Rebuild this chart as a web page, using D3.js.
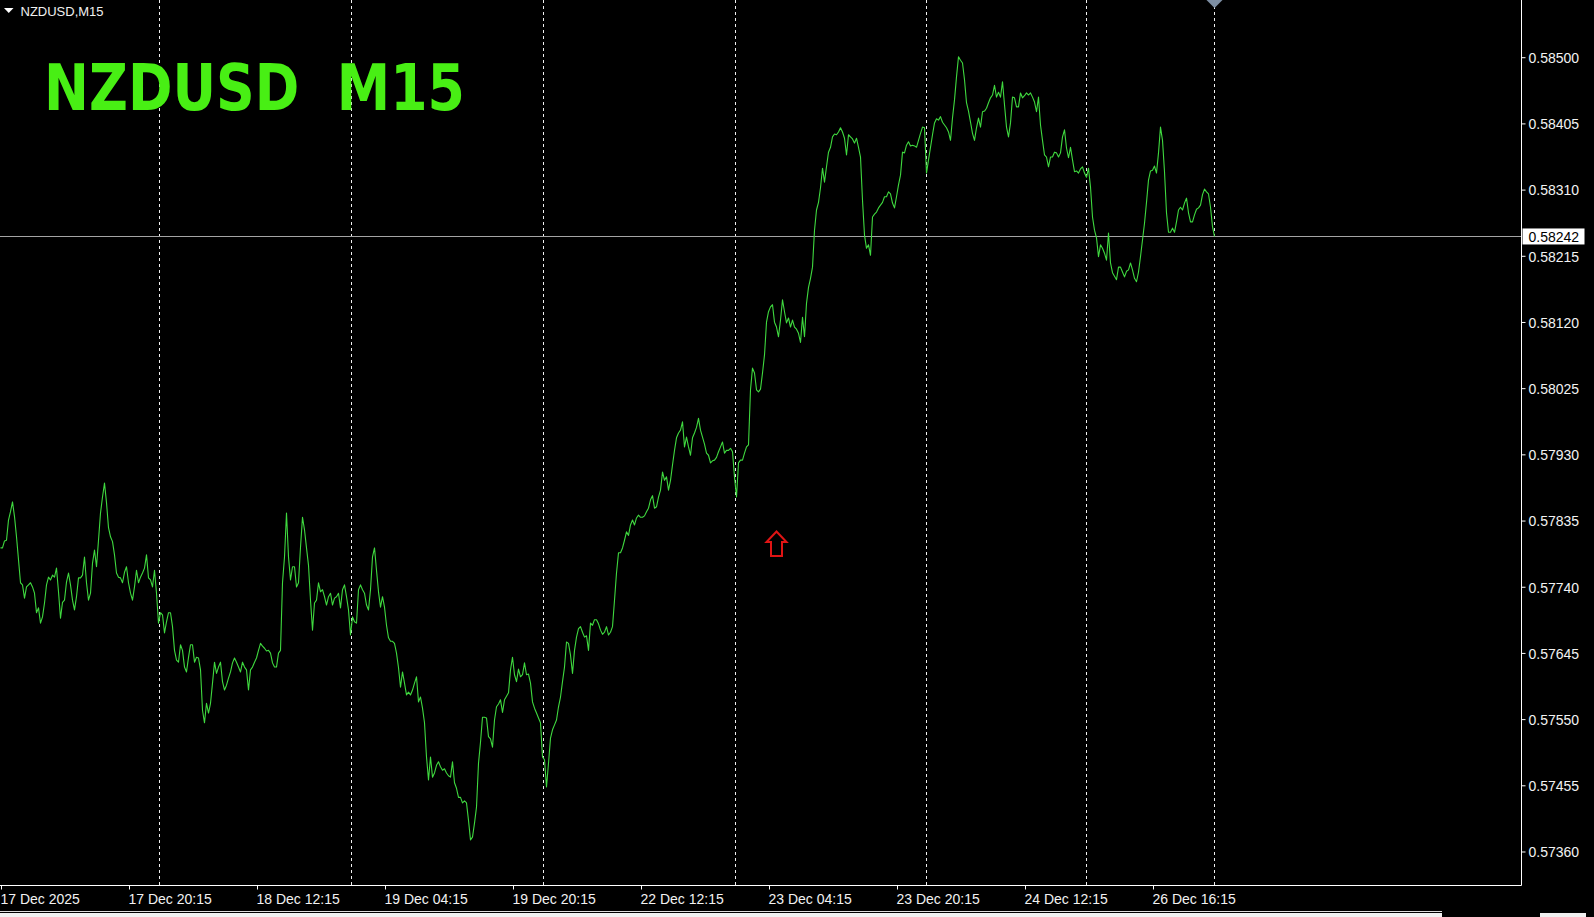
<!DOCTYPE html>
<html>
<head>
<meta charset="utf-8">
<script src="https://cdn.jsdelivr.net/npm/d3@7"></script>
<style>
html,body{margin:0;padding:0;background:#000;overflow:hidden}
svg{display:block}
</style>
</head>
<body>
<svg id="chart" width="1594" height="917"></svg>
<script>
// ---------------- data ----------------
const symbolLabel = "NZDUSD,M15";
const titleText = "NZDUSD  M15";

// M15 closes, one per bar, starting 17 Dec 2025 04:15
const closes = [
0.57795,0.57795,0.57805,0.57806,0.57835,0.57847,0.57861,0.57840,0.57811,0.57778,
0.57745,0.57742,0.57723,0.57739,0.57742,0.57745,0.57739,0.57730,0.57702,0.57709,
0.57687,0.57696,0.57716,0.57742,0.57753,0.57749,0.57756,0.57753,0.57766,0.57732,
0.57694,0.57717,0.57720,0.57746,0.57759,0.57742,0.57720,0.57706,0.57725,0.57752,
0.57752,0.57756,0.57782,0.57745,0.57720,0.57730,0.57773,0.57792,0.57768,0.57806,
0.57845,0.57868,0.57888,0.57860,0.57824,0.57811,0.57804,0.57785,0.57759,0.57753,
0.57752,0.57745,0.57760,0.57768,0.57745,0.57730,0.57720,0.57739,0.57763,0.57745,
0.57753,0.57759,0.57766,0.57785,0.57752,0.57749,0.57739,0.57763,0.57730,0.57687,
0.57702,0.57699,0.57673,0.57689,0.57702,0.57702,0.57682,0.57648,0.57634,0.57631,
0.57656,0.57648,0.57624,0.57617,0.57638,0.57656,0.57656,0.57631,0.57638,0.57637,
0.57620,0.57562,0.57544,0.57572,0.57558,0.57572,0.57601,0.57631,0.57615,0.57624,
0.57631,0.57603,0.57591,0.57598,0.57608,0.57617,0.57630,0.57637,0.57631,0.57624,
0.57617,0.57631,0.57624,0.57620,0.57591,0.57620,0.57624,0.57631,0.57637,0.57648,
0.57658,0.57654,0.57651,0.57647,0.57648,0.57644,0.57630,0.57624,0.57624,0.57644,
0.57648,0.57745,0.57782,0.57845,0.57782,0.57749,0.57768,0.57768,0.57739,0.57745,
0.57796,0.57839,0.57821,0.57795,0.57770,0.57720,0.57677,0.57716,0.57720,0.57745,
0.57732,0.57735,0.57725,0.57713,0.57725,0.57730,0.57713,0.57723,0.57725,0.57730,
0.57709,0.57735,0.57742,0.57725,0.57706,0.57670,0.57696,0.57689,0.57687,0.57735,
0.57742,0.57735,0.57730,0.57713,0.57706,0.57735,0.57782,0.57795,0.57763,0.57732,
0.57710,0.57725,0.57710,0.57684,0.57666,0.57661,0.57661,0.57658,0.57644,0.57623,
0.57595,0.57617,0.57601,0.57584,0.57588,0.57584,0.57591,0.57601,0.57610,0.57574,
0.57581,0.57565,0.57544,0.57495,0.57462,0.57495,0.57466,0.57472,0.57483,0.57488,
0.57481,0.57476,0.57478,0.57472,0.57468,0.57466,0.57488,0.57458,0.57450,0.57437,
0.57437,0.57429,0.57432,0.57429,0.57404,0.57376,0.57380,0.57400,0.57423,0.57486,
0.57516,0.57552,0.57552,0.57551,0.57524,0.57521,0.57509,0.57548,0.57567,0.57571,
0.57577,0.57559,0.57577,0.57582,0.57587,0.57620,0.57638,0.57613,0.57603,0.57621,
0.57610,0.57613,0.57630,0.57613,0.57614,0.57601,0.57574,0.57565,0.57558,0.57551,
0.57544,0.57495,0.57491,0.57452,0.57486,0.57522,0.57534,0.57541,0.57548,0.57567,
0.57581,0.57603,0.57624,0.57660,0.57658,0.57641,0.57615,0.57648,0.57667,0.57679,
0.57682,0.57674,0.57667,0.57669,0.57648,0.57687,0.57684,0.57692,0.57692,0.57686,
0.57677,0.57671,0.57674,0.57682,0.57670,0.57674,0.57682,0.57720,0.57759,0.57788,
0.57788,0.57795,0.57806,0.57818,0.57813,0.57828,0.57835,0.57828,0.57838,0.57842,
0.57839,0.57839,0.57841,0.57847,0.57852,0.57864,0.57870,0.57852,0.57854,0.57868,
0.57878,0.57904,0.57892,0.57897,0.57878,0.57892,0.57914,0.57935,0.57953,0.57960,
0.57964,0.57976,0.57940,0.57954,0.57940,0.57928,0.57953,0.57960,0.57968,0.57981,
0.57964,0.57954,0.57944,0.57931,0.57928,0.57917,0.57920,0.57921,0.57925,0.57933,
0.57940,0.57947,0.57931,0.57935,0.57935,0.57938,0.57933,0.57897,0.57868,0.57917,
0.57921,0.57921,0.57931,0.57940,0.57943,0.58022,0.58053,0.58046,0.58022,0.58019,
0.58023,0.58046,0.58072,0.58119,0.58134,0.58141,0.58144,0.58119,0.58112,0.58098,
0.58122,0.58151,0.58134,0.58118,0.58125,0.58112,0.58122,0.58112,0.58109,0.58103,
0.58090,0.58126,0.58098,0.58146,0.58169,0.58182,0.58198,0.58251,0.58280,0.58291,
0.58312,0.58340,0.58320,0.58342,0.58363,0.58370,0.58385,0.58389,0.58388,0.58392,
0.58398,0.58392,0.58383,0.58359,0.58388,0.58385,0.58382,0.58376,0.58383,0.58370,
0.58356,0.58294,0.58244,0.58225,0.58230,0.58215,0.58270,0.58274,0.58277,0.58283,
0.58287,0.58291,0.58299,0.58299,0.58306,0.58303,0.58290,0.58283,0.58299,0.58316,
0.58330,0.58363,0.58362,0.58373,0.58378,0.58372,0.58373,0.58372,0.58370,0.58380,
0.58390,0.58399,0.58398,0.58333,0.58352,0.58370,0.58388,0.58405,0.58411,0.58409,
0.58414,0.58406,0.58402,0.58398,0.58392,0.58380,0.58412,0.58438,0.58471,0.58500,
0.58495,0.58491,0.58467,0.58434,0.58422,0.58406,0.58390,0.58380,0.58398,0.58412,
0.58399,0.58421,0.58422,0.58426,0.58434,0.58441,0.58445,0.58459,0.58442,0.58449,
0.58442,0.58464,0.58431,0.58399,0.58385,0.58405,0.58442,0.58441,0.58428,0.58428,
0.58448,0.58441,0.58444,0.58448,0.58445,0.58448,0.58442,0.58435,0.58421,0.58442,
0.58402,0.58380,0.58359,0.58356,0.58342,0.58356,0.58356,0.58363,0.58362,0.58356,
0.58362,0.58385,0.58395,0.58369,0.58355,0.58370,0.58352,0.58335,0.58336,0.58333,
0.58339,0.58342,0.58333,0.58327,0.58340,0.58313,0.58270,0.58251,0.58240,0.58213,
0.58230,0.58225,0.58218,0.58208,0.58247,0.58204,0.58190,0.58185,0.58180,0.58198,
0.58198,0.58191,0.58184,0.58192,0.58194,0.58204,0.58194,0.58182,0.58177,0.58191,
0.58213,0.58237,0.58261,0.58291,0.58323,0.58336,0.58337,0.58343,0.58333,0.58362,
0.58399,0.58380,0.58335,0.58276,0.58248,0.58248,0.58254,0.58248,0.58263,0.58280,
0.58284,0.58280,0.58290,0.58297,0.58276,0.58263,0.58263,0.58273,0.58281,0.58283,
0.58287,0.58302,0.58310,0.58306,0.58303,0.58284,0.58256,0.58242
];

const priceTicks = [0.58500,0.58405,0.58310,0.58215,0.58120,0.58025,0.57930,
                    0.57835,0.57740,0.57645,0.57550,0.57455,0.57360];
const timeTickBars = [0,64,128,192,256,320,384,448,512,576];
const timeTickLabels = ["17 Dec 2025","17 Dec 20:15","18 Dec 12:15","19 Dec 04:15",
  "19 Dec 20:15","22 Dec 12:15","23 Dec 04:15","23 Dec 20:15","24 Dec 12:15","26 Dec 16:15"];
const separatorBars = [79,175,271,367,463,543,607];   // day starts
const currentPrice = 0.58242;
const arrowMark = {bar: 388, price: 0.57820};
const priceRange = [0.573112, 0.585814];

// ---------------- layout ----------------
const W = 1594, H = 917;
const plotRight = 1521.5, plotBottom = 885.5;
const svg = d3.select("#chart");
svg.append("rect").attr("width", W).attr("height", H).attr("fill", "#000");

const x = d3.scaleLinear().domain([0, 760]).range([0.5, 1520.5]);
const y = d3.scaleLinear().domain(priceRange).range([885, 0]);

const plot = svg.append("g");
svg.append("clipPath").attr("id","clip").append("rect")
  .attr("x",0).attr("y",0).attr("width",plotRight).attr("height",plotBottom);

// period separators
plot.append("g").selectAll("line").data(separatorBars).join("line")
  .attr("x1", d => Math.round(x(d)) + 0.5).attr("x2", d => Math.round(x(d)) + 0.5)
  .attr("y1", 0).attr("y2", plotBottom)
  .attr("stroke", "#f0f0f0").attr("stroke-width", 1).attr("stroke-dasharray", "3,3");

// current price line
plot.append("line")
  .attr("x1", 0).attr("x2", plotRight)
  .attr("y1", Math.round(y(currentPrice)) + 0.5).attr("y2", Math.round(y(currentPrice)) + 0.5)
  .attr("stroke", "#a4a4a4").attr("stroke-width", 1);

// price line
const line = d3.line().x((d, i) => x(i)).y(d => y(d));
plot.append("path").datum(closes)
  .attr("clip-path","url(#clip)")
  .attr("d", line).attr("fill", "none")
  .attr("stroke", "#3fd83f").attr("stroke-width", 1.1).attr("stroke-linejoin","round");

// arrow marker
const ax = x(arrowMark.bar), ay = y(arrowMark.price);
plot.append("path")
  .attr("transform", `translate(${ax},${ay})`)
  .attr("d", "M0,1 L10,11.5 L5.5,11.5 L5.5,25.5 L-5.5,25.5 L-5.5,11.5 L-10,11.5 Z")
  .attr("fill", "none").attr("stroke", "#e01414").attr("stroke-width", 2).attr("stroke-linejoin","miter");

// chart-shift marker
const lx = x(closes.length - 1);
svg.append("path")
  .attr("d", `M${lx-8},0 L${lx+8},0 L${lx},8 Z`)
  .attr("fill", "#7d8ea3");

// borders
svg.append("line").attr("x1", plotRight).attr("x2", plotRight).attr("y1", 0).attr("y2", plotBottom)
  .attr("stroke", "#fff").attr("stroke-width", 1);
svg.append("line").attr("x1", 0).attr("x2", plotRight).attr("y1", plotBottom).attr("y2", plotBottom)
  .attr("stroke", "#fff").attr("stroke-width", 1);

// y axis
const yAxis = d3.axisRight(y).tickValues(priceTicks).tickFormat(d3.format(".5f"))
  .tickSize(4).tickPadding(3);
const gy = svg.append("g").attr("transform", `translate(${plotRight},0.5)`).call(yAxis);
gy.select(".domain").remove();
gy.selectAll(".tick line").attr("stroke", "#fff");
gy.selectAll(".tick text").attr("fill", "#f2f2f2").attr("dy", "0.38em")
  .style("font-family", "'Liberation Sans', Arial, sans-serif").style("font-size", "14px");

// current price label
const cy = y(currentPrice);
svg.append("rect").attr("x", plotRight + 1).attr("y", cy - 8).attr("width", 62).attr("height", 16)
  .attr("fill", "#fff");
svg.append("text").attr("x", 1528.5).attr("y", cy).attr("dy", "0.36em")
  .attr("fill", "#000").style("font-family", "'Liberation Sans', Arial, sans-serif").style("font-size", "14px")
  .text(d3.format(".5f")(currentPrice));

// x axis
const xAxis = d3.axisBottom(x).tickValues(timeTickBars)
  .tickFormat((d, i) => timeTickLabels[i]).tickSize(4);
const gx = svg.append("g").attr("transform", `translate(0.5,${plotBottom})`).call(xAxis);
gx.select(".domain").remove();
gx.selectAll(".tick line").attr("stroke", "#fff");
gx.selectAll(".tick text").attr("fill", "#f2f2f2").attr("text-anchor", "start")
  .attr("x", -1).attr("y", 18).attr("dy", 0)
  .style("font-family", "'Liberation Sans', Arial, sans-serif").style("font-size", "14px");

// bottom window strip
svg.append("line").attr("x1", 0).attr("x2", 1442).attr("y1", 911.5).attr("y2", 911.5)
  .attr("stroke", "#dcdcdc");
svg.append("rect").attr("x", 0).attr("y", 913).attr("width", 1442).attr("height", 4).attr("fill", "#f0f0f0");
svg.append("rect").attr("x", 1540).attr("y", 913).attr("width", 46).attr("height", 4).attr("fill", "#f0f0f0");

// top-left symbol label
svg.append("path").attr("d", "M4,8 L13.5,8 L8.75,13 Z").attr("fill", "#fff");
svg.append("text").attr("x", 20.5).attr("y", 15.5).text(symbolLabel)
  .attr("fill", "#f0f0f0").style("font-family", "'Liberation Sans', Arial, sans-serif").style("font-size", "13px");

// big title
svg.append("text").attr("x", 44).attr("y", 110).text(titleText)
  .attr("fill", "#48ef14").attr("textLength", 421).attr("lengthAdjust", "spacingAndGlyphs")
  .style("white-space", "pre")
  .style("font-family", "'DejaVu Sans', Verdana, sans-serif").style("font-weight", "bold").style("font-size", "64px");
</script>
</body>
</html>
